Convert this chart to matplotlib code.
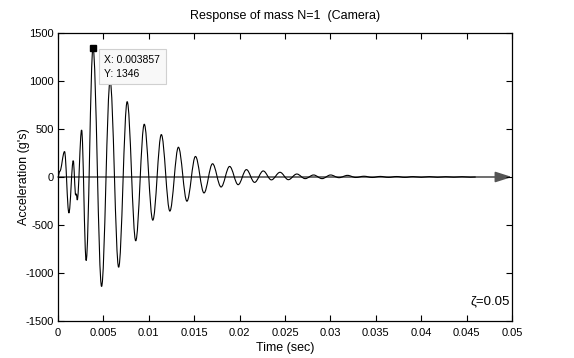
import matplotlib
matplotlib.use("Agg")
import matplotlib.pyplot as plt
from matplotlib.path import Path
from matplotlib.patches import PathPatch
import numpy as np

plt.rcParams['font.family'] = ['Liberation Sans', 'DejaVu Sans']
plt.rcParams['axes.unicode_minus'] = False

# extrema / turning points (time in ms, acceleration in g's)
time_ms = [0, 0.2, 0.72, 1.2, 1.68, 1.95, 2.02, 2.12, 2.6, 3.1, 3.857, 4.8,
           5.74, 6.68, 7.62, 8.56, 9.5, 10.44, 11.38, 12.32, 13.26, 14.2,
           15.14, 16.08, 17.02, 17.96, 18.9, 19.84, 20.75, 21.65, 22.6,
           23.5, 24.45, 25.37, 26.3, 27.22, 28.15, 29.08, 30.02, 30.95,
           31.88, 32.8, 33.7, 34.6, 35.5, 36.4, 37.3, 38.2, 39.1, 40.0,
           40.9, 41.8, 42.7, 43.6, 44.5, 45.4, 46.0]
accel = [0, 60, 265, -375, 170, -190, -175, -240, 490, -870, 1346, -1140,
         1000, -940, 785, -665, 550, -450, 442, -355, 310, -252,
         214, -166, 138, -104, 110, -80, 77, -56, 63,
         -30, 49, -28, 31, -17, 21, -17, 21, -7,
         17, -5, 8, -5, 6, -4, 5, -4, 4, -3,
         4, -3, 3, -2, 3, -2, 0]

tip_x = 0.003857
tip_y = 1346
xticks = [0, 0.005, 0.01, 0.015, 0.02, 0.025, 0.03, 0.035, 0.04, 0.045, 0.05]
xticklabels = ['0', '0.005', '0.01', '0.015', '0.02', '0.025', '0.03',
               '0.035', '0.04', '0.045', '0.05']
yticks = [-1500, -1000, -500, 0, 500, 1000, 1500]

t = np.array(time_ms) / 1000.0

fig = plt.figure(figsize=(5.74, 3.58), dpi=100)
ax = fig.add_axes([58 / 574, 1 - 321 / 358, 454 / 574, 288 / 358])

# grey time axis arrow
ax.annotate('', xy=(0.05, 0), xytext=(0, 0),
            arrowprops=dict(arrowstyle='-|>,head_length=1.0,head_width=0.32',
                            color='#555555', lw=1.2, shrinkA=0, shrinkB=0),
            zorder=1)

# trace: smooth curve segments between the turning points (flat at each one)
verts = [(t[0], accel[0])]
codes = [Path.MOVETO]
for i in range(1, len(t)):
    dt = t[i] - t[i - 1]
    verts += [(t[i - 1] + 0.36 * dt, accel[i - 1]),
              (t[i] - 0.36 * dt, accel[i]),
              (t[i], accel[i])]
    codes += [Path.CURVE4] * 3
ax.add_patch(PathPatch(Path(verts, codes), fc='none', ec='black', lw=0.8,
                       zorder=2))

# data tip
ax.plot([tip_x], [tip_y], marker='s', color='black', ms=5, zorder=3)
ax.text(0.0051, 1270, 'X: %g\nY: %d' % (tip_x, tip_y), fontsize=7.5,
        va='top', ha='left', linespacing=1.45,
        bbox=dict(boxstyle='square,pad=0.55', fc='#f8f8f8', ec='#d0d0d0', lw=0.8),
        zorder=4)

ax.text(0.0454, -1290, 'ζ=0.05', fontsize=9.5, ha='left', va='center')

ax.set_xlim(0, 0.05)
ax.set_ylim(-1500, 1500)
ax.set_xticks(xticks)
ax.set_xticklabels(xticklabels)
ax.set_yticks(yticks)
ax.tick_params(direction='in', length=4, width=0.8, labelsize=8,
               top=True, right=True)
ax.tick_params(axis='x', pad=5)
ax.tick_params(axis='y', pad=3)
for s in ax.spines.values():
    s.set_linewidth(0.9)

ax.set_title('Response of mass N=1  (Camera)', fontsize=9, pad=10)
ax.set_xlabel('Time (sec)', fontsize=9, labelpad=3)
ax.set_ylabel("Acceleration (g's)", fontsize=9, labelpad=-3)

fig.savefig('out.png', dpi=100)
